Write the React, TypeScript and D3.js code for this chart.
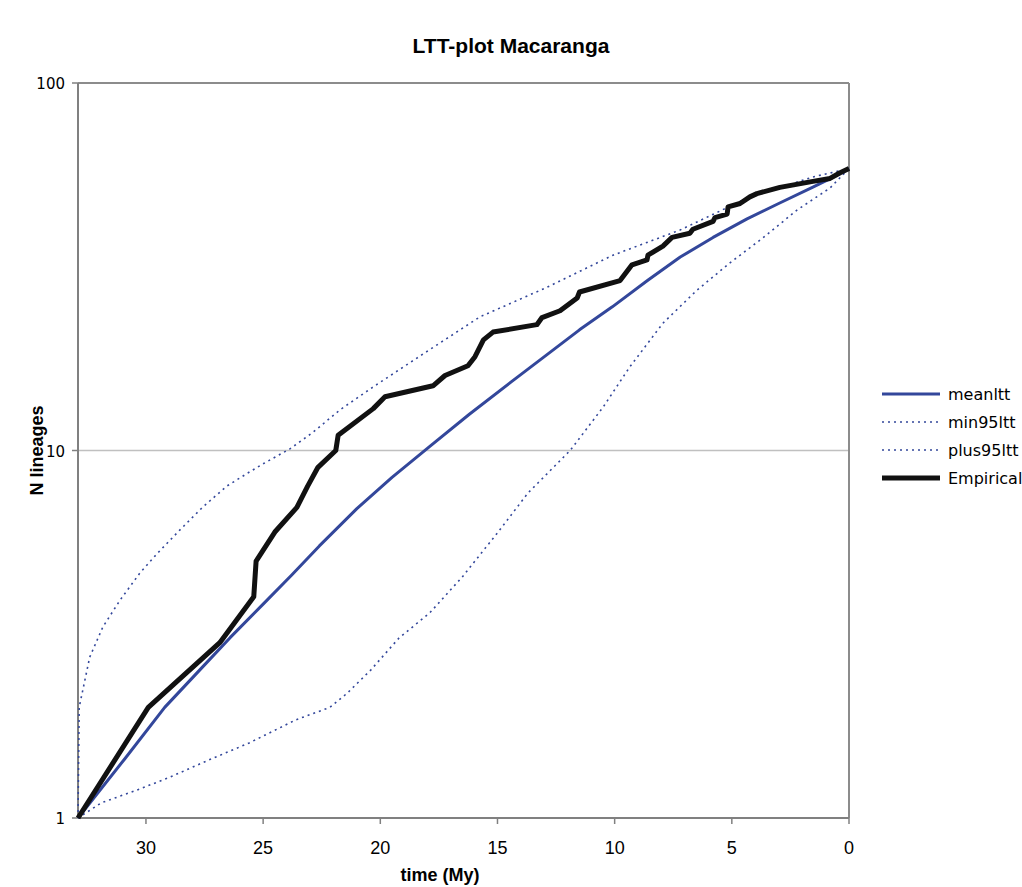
import React, { useRef, useEffect } from 'react';
import { select, scaleLinear, scaleLog, line } from 'd3';

// time before present (My) and number of lineages
const meanTime = [32.9, 30.9, 29.2, 27.5, 26.4, 25.0, 23.8, 22.6, 21.0, 19.5, 17.9, 16.2, 14.4, 12.9, 11.5, 10.1, 8.6, 7.2, 5.8, 4.35, 3.0, 1.54, 0.8, 0];
const meanN = [1, 1.45, 2.0, 2.61, 3.1, 3.82, 4.57, 5.5, 6.95, 8.45, 10.25, 12.55, 15.4, 18.2, 21.3, 24.6, 29, 33.6, 38, 42.7, 47, 52.1, 54.9, 58.5];

const minTime = [32.9, 31.9, 30.4, 29.0, 27.3, 25.6, 23.6, 22.15, 21.4, 20.4, 19.2, 17.9, 16.5, 15.0, 13.7, 11.9, 10.5, 9.35, 7.94, 6.49, 5.08, 3.67, 2.22, 0.81, 0];
const minN = [1, 1.1, 1.19, 1.29, 1.44, 1.6, 1.85, 2.0, 2.19, 2.53, 3.09, 3.61, 4.53, 5.97, 7.66, 10, 13.1, 16.9, 22.2, 27.3, 32.4, 37.9, 45.1, 51.8, 58.5];

const plusTime = [32.9, 32.85, 32.4, 31.84, 31.1, 30.26, 29.5, 28.55, 27.57, 26.55, 25.57, 25.0, 23.86, 22.88, 21.72, 20.3, 17.9, 15.75, 12.89, 10.07, 7.21, 4.35, 1.54, 0];
const plusN = [1, 2.0, 2.74, 3.31, 3.92, 4.64, 5.26, 6.08, 7.02, 8.0, 8.75, 9.2, 10.1, 11.2, 12.9, 14.9, 18.8, 23.1, 27.8, 34, 39.8, 48.6, 55.5, 58.5];

const empTime = [32.9, 29.9, 26.85, 25.4, 25.3, 24.5, 23.56, 23.1, 22.66, 21.9, 21.8, 20.3, 19.8, 17.75, 17.24, 16.26, 15.96, 15.6, 15.19, 13.32, 13.1, 12.33, 11.6, 11.5, 9.77, 9.26, 8.62, 8.58, 7.94, 7.55, 6.79, 6.66, 5.8, 5.72, 5.2, 5.16, 4.65, 4.23, 3.93, 2.95, 1.54, 0.81, 0.38, 0];
const empN = [1, 2, 3, 4, 5, 6, 7, 8, 9, 10, 11, 13, 14, 15, 16, 17, 18, 20, 21, 22, 23, 24, 26, 27, 29, 32, 33, 34, 36, 38, 39, 40, 42, 43, 44, 46, 47, 49, 50, 52, 54, 55, 57, 58.5];

const xTicks = [30, 25, 20, 15, 10, 5, 0];
const yTicks = [1, 10, 100];
const legendLabels = ['meanltt', 'min95ltt', 'plus95ltt', 'Empirical'];

const BLUE = '#33479b';
const narrow = '"Liberation Sans Narrow", "Liberation Sans", Arial, sans-serif';
const wide = '"DejaVu Sans", Verdana, sans-serif';

export default function App() {
  const svgRef = useRef(null);

  useEffect(() => {
    const svg = select(svgRef.current);
    svg.selectAll('*').remove();

    const x = scaleLinear().domain([32.9, 0]).range([78, 849]);
    const y = scaleLog().domain([1, 100]).range([818, 83]);

    const path = line<[number, number]>()
      .x(d => x(d[0]))
      .y(d => y(d[1]));

    const zip = (ts: number[], ns: number[]) => ts.map((t, i) => [t, ns[i]] as [number, number]);

    // title
    svg.append('text')
      .attr('x', 511).attr('y', 53)
      .attr('text-anchor', 'middle')
      .attr('font-family', narrow).attr('font-weight', 'bold').attr('font-size', 21)
      .text('LTT-plot Macaranga');

    // gridline at 10
    svg.append('line')
      .attr('x1', x(32.9)).attr('x2', x(0))
      .attr('y1', y(10)).attr('y2', y(10))
      .attr('stroke', '#c0c0c0').attr('stroke-width', 1.5);

    // frame
    svg.append('line').attr('x1', x(32.9)).attr('x2', x(0)).attr('y1', y(100)).attr('y2', y(100))
      .attr('stroke', '#8c8c8c').attr('stroke-width', 2);
    svg.append('line').attr('x1', x(0)).attr('x2', x(0)).attr('y1', y(100)).attr('y2', y(1))
      .attr('stroke', '#8c8c8c').attr('stroke-width', 2);
    svg.append('line').attr('x1', x(32.9)).attr('x2', x(32.9)).attr('y1', y(100)).attr('y2', y(1))
      .attr('stroke', '#808080').attr('stroke-width', 2);
    svg.append('line').attr('x1', x(32.9)).attr('x2', x(0)).attr('y1', y(1)).attr('y2', y(1))
      .attr('stroke', '#808080').attr('stroke-width', 2);

    // x ticks
    const xt = svg.append('g');
    xt.selectAll('line').data(xTicks).join('line')
      .attr('x1', d => x(d)).attr('x2', d => x(d))
      .attr('y1', y(1)).attr('y2', y(1) + 6)
      .attr('stroke', '#808080').attr('stroke-width', 1.5);
    xt.selectAll('text').data(xTicks).join('text')
      .attr('x', d => x(d)).attr('y', 854)
      .attr('text-anchor', 'middle')
      .attr('font-family', narrow).attr('font-size', 18)
      .text(d => d);

    // y ticks
    const yt = svg.append('g');
    yt.selectAll('line').data(yTicks).join('line')
      .attr('x1', x(32.9) - 6).attr('x2', x(32.9))
      .attr('y1', d => y(d)).attr('y2', d => y(d))
      .attr('stroke', '#808080').attr('stroke-width', 1.5);
    yt.selectAll('text').data(yTicks).join('text')
      .attr('x', 65).attr('y', d => y(d) + 6)
      .attr('text-anchor', 'end')
      .attr('font-family', wide).attr('font-size', 15)
      .text(d => d);

    // axis titles
    svg.append('text')
      .attr('x', 440).attr('y', 881)
      .attr('text-anchor', 'middle')
      .attr('font-family', narrow).attr('font-weight', 'bold').attr('font-size', 18)
      .text('time (My)');
    svg.append('text')
      .attr('transform', `translate(43,${y(10)}) rotate(-90)`)
      .attr('text-anchor', 'middle')
      .attr('font-family', narrow).attr('font-weight', 'bold').attr('font-size', 18)
      .text('N lineages');

    // series
    const series = [
      { d: zip(meanTime, meanN), stroke: BLUE, w: 3, dash: null },
      { d: zip(minTime, minN), stroke: BLUE, w: 1.6, dash: '2,4' },
      { d: zip(plusTime, plusN), stroke: BLUE, w: 1.6, dash: '2,4' },
      { d: zip(empTime, empN), stroke: '#111', w: 5, dash: null },
    ];

    svg.append('g')
      .selectAll('path')
      .data(series)
      .join('path')
      .attr('d', s => path(s.d))
      .attr('fill', 'none')
      .attr('stroke', s => s.stroke)
      .attr('stroke-width', s => s.w)
      .attr('stroke-dasharray', s => s.dash)
      .attr('stroke-linejoin', 'round');

    // legend
    const lg = svg.append('g').selectAll('g').data(series).join('g')
      .attr('transform', (s, i) => `translate(882,${394 + i * 28})`);
    lg.append('line')
      .attr('x1', 0).attr('x2', 58).attr('y1', 0).attr('y2', 0)
      .attr('stroke', s => s.stroke)
      .attr('stroke-width', s => s.w)
      .attr('stroke-dasharray', s => s.dash);
    lg.append('text')
      .attr('x', 66).attr('y', 6)
      .attr('font-family', wide).attr('font-size', 16)
      .text((s, i) => legendLabels[i]);
  }, []);

  return (
    <svg
      ref={svgRef}
      xmlns="http://www.w3.org/2000/svg"
      width="1022"
      height="887"
      viewBox="0 0 1022 887"
      style={{ position: 'absolute', left: 0, top: 0, background: '#fff' }}
    />
  );
}
